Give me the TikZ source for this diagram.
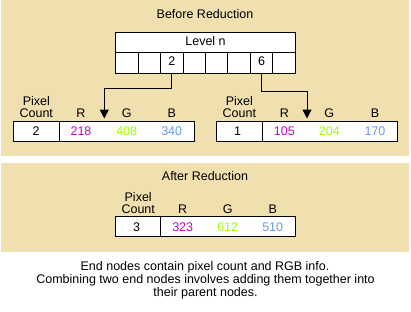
\documentclass[tikz,border=0pt]{standalone}
\usepackage{fontspec}
\setmainfont{Liberation Sans}
\usetikzlibrary{arrows.meta}
\definecolor{bgbeige}{RGB}{240,224,176}
\definecolor{rcol}{RGB}{204,0,204}
\definecolor{gcol}{RGB}{153,255,0}
\definecolor{bcol}{RGB}{102,153,230}
\begin{document}
\begin{tikzpicture}[x=1pt,y=-1pt,
  txt/.style={inner sep=0pt, anchor=base, font=\fontsize{12.5}{14}\selectfont},
  pctxt/.style={txt, align=center, font=\fontsize{12.5}{11.6}\selectfont},
  boxbase/.style={draw, fill=white, line width=1pt, inner sep=0pt, outer sep=0pt},
  cellbox/.style={boxbase, minimum width=22.45pt, minimum height=20.7pt},
  headbox/.style={boxbase, minimum width=179.6pt, minimum height=20pt},
  pcbox/.style={boxbase, minimum height=19.6pt},
  link/.style={line width=1pt, -{Triangle[width=9pt,length=9pt]}}]
\useasboundingbox (0,0) rectangle (411,311);
% panels
\fill[bgbeige] (1,0) rectangle (409,156);
\fill[bgbeige] (1,163) rectangle (409,252);
% ---- before reduction ----
\node[txt] (t1) at (205,18.3) {Before Reduction};
\node[headbox] (level) at (205.5,42.3) {};
\node[txt] (levt) at (205.5,45.5) {Level n};
\foreach \i/\x in {1/126.9,2/149.4,3/171.8,4/194.3,5/216.7,6/239.2,7/261.6,8/284.1}
  \node[cellbox] (c\i) at (\x,62.65) {};
\node[txt] (n2) at (171.8,65.9) {2};
\node[txt] (n6) at (261.6,65.9) {6};
% left record
\node[pctxt] (ph1) at (36.3,117.3) {Pixel\\Count};
\node[txt] (hr1) at (81,117.3) {R};
\node[txt] (hg1) at (126.7,117.3) {G};
\node[txt] (hb1) at (171.7,117.3) {B};
\node[pcbox, minimum width=46pt] (pc1) at (36.3,131.5) {};
\node[pcbox, minimum width=135.4pt] (rgb1) at (127,131.5) {};
\node[txt] (v1) at (36,135.2) {2};
\node[txt, text=rcol] (r1) at (81,135.2) {218};
\node[txt, text=gcol] (g1) at (126.7,135.2) {408};
\node[txt, text=bcol] (b1) at (171.7,135.2) {340};
% right record
\node[pctxt] (ph2) at (239.3,117.3) {Pixel\\Count};
\node[txt] (hr2) at (284.3,117.3) {R};
\node[txt] (hg2) at (329.3,117.3) {G};
\node[txt] (hb2) at (375,117.3) {B};
\node[pcbox, minimum width=45.6pt] (pc2) at (239.5,131.5) {};
\node[pcbox, minimum width=135pt] (rgb2) at (329.8,131.5) {};
\node[txt] (v2) at (237.7,135.2) {1};
\node[txt, text=rcol] (r2) at (284.3,135.2) {105};
\node[txt, text=gcol] (g2) at (329.3,135.2) {204};
\node[txt, text=bcol] (b2) at (375,135.2) {170};
% connectors
\coordinate (tip1) at (104.3,118.5);
\coordinate (tip2) at (307,118.5);
\draw[link] (c3.south) -- ++(0,15.3) -| (tip1);
\draw[link] (c7.south) -- ++(0,18) -| (tip2);
% ---- after reduction ----
\node[txt] (t2) at (205,180.7) {After Reduction};
\node[pctxt] (ph3) at (138.2,213) {Pixel\\Count};
\node[txt] (hr3) at (182.7,213) {R};
\node[txt] (hg3) at (227.7,213) {G};
\node[txt] (hb3) at (272.7,213) {B};
\node[pcbox, minimum width=45pt, minimum height=20pt] (pc3) at (138.2,226.3) {};
\node[pcbox, minimum width=134.6pt, minimum height=20pt] (rgb3) at (228,226.3) {};
\node[txt] (v3) at (136.7,231.3) {3};
\node[txt, text=rcol] (r3) at (182.7,231.3) {323};
\node[txt, text=gcol] (g3) at (227.7,231.3) {612};
\node[txt, text=bcol] (b3) at (272.7,231.3) {510};
% caption
\node[txt] (cap1) at (205,270.7) {End nodes contain pixel count and RGB info.};
\node[txt] (cap2) at (205.5,283) {Combining two end nodes involves adding them together into};
\node[txt] (cap3) at (205.5,296) {their parent nodes.};
\end{tikzpicture}
\end{document}
